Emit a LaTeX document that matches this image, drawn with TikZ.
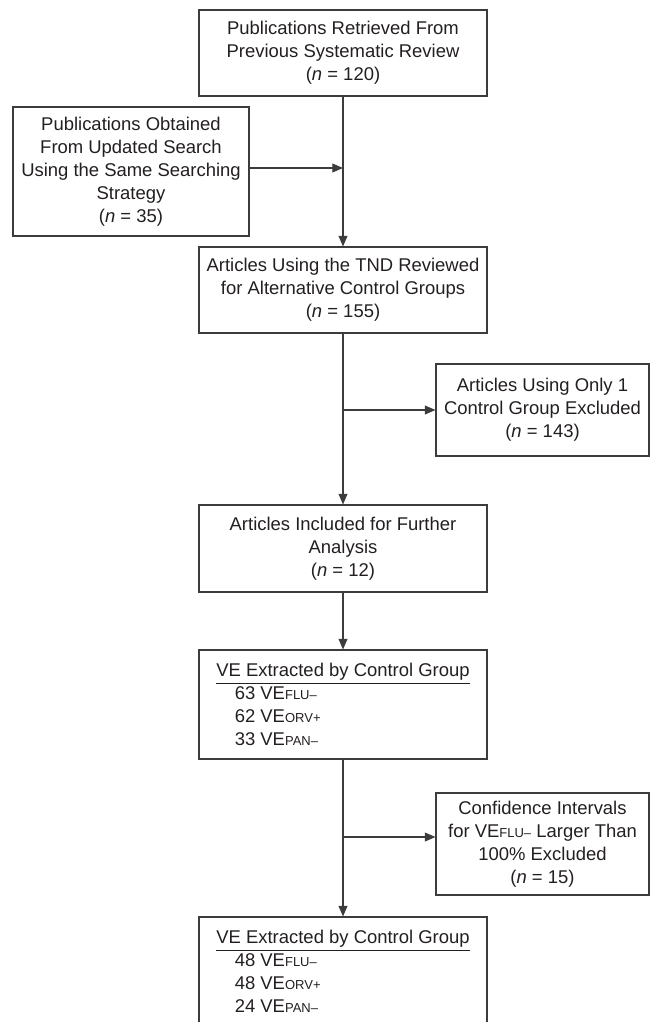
\documentclass[tikz,border=0pt]{standalone}
\usepackage{fontspec}
\setmainfont{Liberation Sans}
\usetikzlibrary{shapes,arrows.meta,positioning,calc}
\usepackage{xcolor}
\definecolor{boxgray}{RGB}{60,60,60}
\definecolor{textgray}{RGB}{35,31,32}
\newcommand{\vesc}[1]{{\fontsize{7.4}{9}\selectfont #1}}
\tikzset{
    box/.style={draw=boxgray, line width=0.6pt, align=center, inner sep=0pt, text=textgray, font=\fontsize{10.5}{13.1}\selectfont},
    mainbox/.style={box, minimum width=5.76cm},
    sidebox/.style={box, minimum width=4.26cm},
    flow/.style={draw=boxgray, line width=0.6pt, -{Triangle[length=6pt,width=5pt]}},
}

\begin{document}
\begin{tikzpicture}
    \useasboundingbox (0,0) rectangle (13.08,-20.44);
    \clip (0,0) rectangle (13.08,-20.44);
    \node[mainbox, minimum height=1.72cm] (pub) at (6.86,-1.06) {Publications Retrieved From\\Previous Systematic Review\\(\textit{n} = 120)};
    \node[box, minimum width=4.72cm, minimum height=2.58cm] (upd) at (2.62,-3.43) {Publications Obtained\\From Updated Search\\Using the Same Searching\\Strategy\\(\textit{n} = 35)};
    \node[mainbox, minimum height=1.72cm] (tnd) at (6.86,-5.80) {Articles Using the TND Reviewed\\for Alternative Control Groups\\(\textit{n} = 155)};
    \node[sidebox, minimum height=1.84cm] (only1) at (10.85,-8.20) {Articles Using Only 1\\Control Group Excluded\\(\textit{n} = 143)};
    \node[mainbox, minimum height=1.74cm] (incl) at (6.86,-10.97) {Articles Included for Further\\Analysis\\(\textit{n} = 12)};
    \node[mainbox, minimum height=2.18cm, align=left] (ve1) at (6.86,-14.09) {\underline{VE Extracted by Control Group}\\\hspace{1em}63 VE\vesc{FLU–}\\\hspace{1em}62 VE\vesc{ORV+}\\\hspace{1em}33 VE\vesc{PAN–}};
    \node[sidebox, minimum height=2.04cm] (ci) at (10.85,-16.88) {Confidence Intervals\\for VE\vesc{FLU–} Larger Than\\100\% Excluded\\(\textit{n} = 15)};
    \node[mainbox, minimum height=2.18cm, align=left] (ve2) at (6.86,-19.43) {\underline{VE Extracted by Control Group}\\\hspace{1em}48 VE\vesc{FLU–}\\\hspace{1em}48 VE\vesc{ORV+}\\\hspace{1em}24 VE\vesc{PAN–}};

    \coordinate (join) at (6.86,-3.36);
    \coordinate (fork1) at (6.86,-8.20);
    \coordinate (fork2) at (6.86,-16.74);
    \draw[flow] (pub) -- (tnd);
    \draw[flow] (upd.east |- join) -- (join);
    \draw[flow] (tnd) -- (incl);
    \draw[flow] (fork1) -- (only1);
    \draw[flow] (incl) -- (ve1);
    \draw[flow] (ve1) -- (ve2);
    \draw[flow] (fork2) -- (fork2 -| ci.west);
\end{tikzpicture}
\end{document}
